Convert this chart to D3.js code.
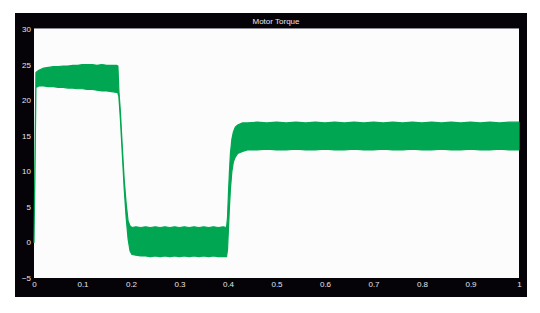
<!DOCTYPE html>
<html>
<head>
<meta charset="utf-8">
<script src="https://cdn.jsdelivr.net/npm/d3@7"></script>
<style>
  body { margin: 0; background: #fff; }
  svg { display: block; }
</style>
</head>
<body>
<div id="chart"></div>
<script>
// envelope of the noisy torque signal
var time = [0, 0.002, 0.004, 0.01, 0.02, 0.03, 0.04, 0.05, 0.06, 0.07, 0.08, 0.09, 0.10,
  0.11, 0.12, 0.13, 0.14, 0.15, 0.16, 0.17, 0.173,
  0.175, 0.178, 0.182, 0.186, 0.190, 0.194, 0.198, 0.202,
  0.21, 0.22, 0.23, 0.24, 0.25, 0.26, 0.27, 0.28, 0.29, 0.30, 0.31, 0.32, 0.33, 0.34,
  0.35, 0.36, 0.37, 0.38, 0.39, 0.397,
  0.399, 0.401, 0.403, 0.405, 0.408, 0.411, 0.415, 0.42, 0.43,
  0.44, 0.46, 0.48, 0.50, 0.52, 0.54, 0.56, 0.58, 0.60, 0.62, 0.64, 0.66, 0.68, 0.70,
  0.72, 0.74, 0.76, 0.78, 0.80, 0.82, 0.84, 0.86, 0.88, 0.90, 0.92, 0.94, 0.96, 0.98, 1.0];

var upper = [0.3, 12, 23.9, 24.2, 24.5, 24.6, 24.7, 24.7, 24.8, 24.8, 24.9, 24.9, 25.0,
  25.0, 25.0, 24.9, 25.0, 24.9, 24.9, 24.9, 24.8,
  21.3, 18.5, 13.5, 8.8, 5.5, 3.0, 2.3, 2.1,
  2.2, 2.1, 2.2, 2.1, 2.2, 2.1, 2.2, 2.1, 2.2, 2.1, 2.2, 2.1, 2.2, 2.1,
  2.2, 2.1, 2.2, 2.1, 2.2, 2.1,
  3.5, 7.0, 10.0, 12.5, 14.5, 15.5, 16.2, 16.5, 16.8,
  16.8, 16.9, 16.8, 16.9, 16.8, 16.9, 16.8, 16.9, 16.8, 16.9, 16.8, 16.9, 16.8, 16.9,
  16.8, 16.9, 16.8, 16.9, 16.8, 16.9, 16.8, 16.9, 16.8, 16.9, 16.8, 16.9, 16.8, 16.9, 16.9];

var lower = [0, 10, 21.8, 22.0, 22.0, 21.9, 21.9, 21.8, 21.8, 21.7, 21.7, 21.6, 21.6,
  21.5, 21.5, 21.4, 21.3, 21.3, 21.2, 21.1, 21.0,
  20.5, 17.5, 12.5, 7.5, 3.5, 0.5, -1.2, -1.7,
  -1.8, -1.9, -1.9, -2.0, -1.9, -2.0, -1.9, -2.0, -1.9, -2.0, -1.9, -2.0, -1.9, -2.0,
  -1.9, -2.0, -1.9, -2.0, -2.0, -2.0,
  -1.0, 2.0, 5.0, 7.5, 10.0, 11.3, 12.0, 12.5, 12.8,
  13.0, 13.0, 13.1, 13.0, 13.0, 13.1, 13.0, 13.0, 13.1, 13.0, 13.0, 13.1, 13.0, 13.0,
  13.1, 13.0, 13.0, 13.1, 13.0, 13.0, 13.1, 13.0, 13.0, 13.1, 13.0, 13.0, 13.1, 13.0, 13.0];

var xTicks = [0, 0.1, 0.2, 0.3, 0.4, 0.5, 0.6, 0.7, 0.8, 0.9, 1];
var yTicks = [-5, 0, 5, 10, 15, 20, 25, 30];
var title = "Motor Torque";

var W = 540, H = 313;
var svg = d3.select("#chart").append("svg").attr("width", W).attr("height", H);

// black frame
svg.append("rect").attr("x", 15).attr("y", 13).attr("width", 512).attr("height", 284).attr("fill", "#050308");

var x = d3.scaleLinear().domain([0, 1]).range([34, 519]);
var y = d3.scaleLinear().domain([-5, 30]).range([278, 29]);

// plot area
svg.append("rect").attr("x", 34).attr("y", 29).attr("width", 485).attr("height", 249).attr("fill", "#fcfcfc");
svg.append("line").attr("x1", 34).attr("x2", 519).attr("y1", 28.5).attr("y2", 28.5).attr("stroke", "#8a8a94");

var rows = time.map(function(t, i) { return { t: t, lo: lower[i], hi: upper[i] }; });

var area = d3.area()
  .x(function(d) { return x(d.t); })
  .y0(function(d) { return y(d.lo); })
  .y1(function(d) { return y(d.hi); });

svg.append("path").datum(rows)
  .attr("d", area)
  .attr("fill", "#00a651")
  .attr("stroke", "#00a651")
  .attr("stroke-width", 1.2)
  .attr("stroke-linejoin", "round");

// axes
var yAxis = svg.append("g").attr("transform", "translate(34,0)")
  .call(d3.axisLeft(y).tickValues(yTicks).tickSize(0).tickPadding(3));
var xAxis = svg.append("g").attr("transform", "translate(0,278)")
  .call(d3.axisBottom(x).tickValues(xTicks).tickSize(0).tickPadding(3)
    .tickFormat(function(d) { return String(+d.toFixed(1)); }));

[yAxis, xAxis].forEach(function(g) {
  g.select(".domain").remove();
  g.selectAll("text").attr("fill", "#e6e4ea").style("font-family", "Liberation Sans, Arial, sans-serif").style("font-size", "8px");
});

svg.append("text").attr("x", 276).attr("y", 24)
  .attr("text-anchor", "middle")
  .attr("fill", "#ece2f2")
  .style("font-family", "Liberation Sans, Arial, sans-serif")
  .style("font-size", "8px")
  .text(title);
</script>
</body>
</html>
